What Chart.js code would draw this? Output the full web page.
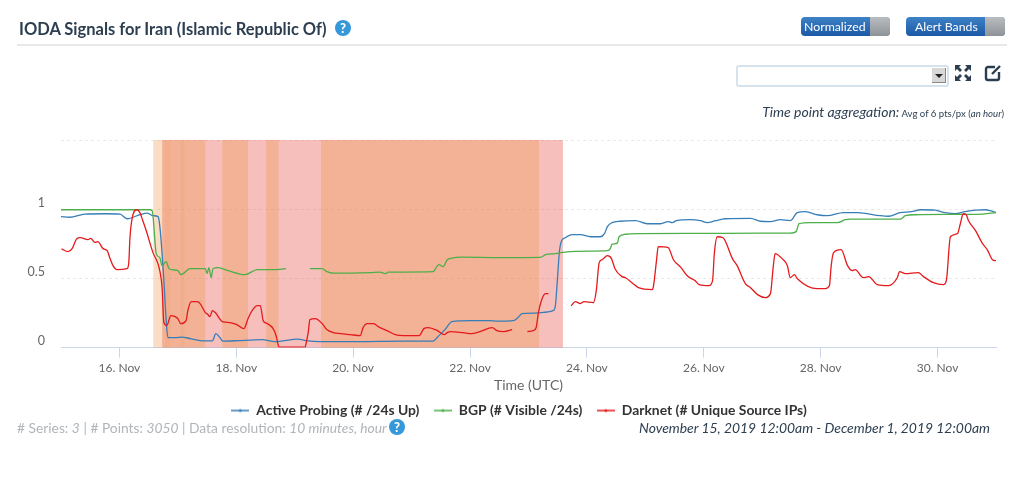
<!DOCTYPE html>
<html>
<head>
<meta charset="utf-8">
<title>IODA Signals for Iran</title>
<script src="https://cdn.jsdelivr.net/npm/chart.js@4"></script>
<style>
  html, body { margin: 0; padding: 0; background: #fff; }
  body { width: 1024px; height: 481px; position: relative; overflow: hidden; font-family: Lato, sans-serif; }
  #chart { position: absolute; left: 0; top: 0; }
  .abs { position: absolute; white-space: nowrap; }
  #title { left: 19px; top: 18px; font-size: 16.5px; line-height: 22px; font-weight: 700; color: #2c3e50; }
  #rule { left: 17px; top: 44px; width: 990px; height: 2px; background: #e8e8e8; }
  .help { width: 16px; height: 16px; border-radius: 50%; background: #3498db; color: #fff; font-size: 13px; line-height: 16px; font-weight: 900; text-align: center; }
  .toggle { top: 17px; height: 19px; border-radius: 4px; background: linear-gradient(#3d82c6, #1c58a6); color: #fff; font-size: 12.3px; line-height: 19px; overflow: hidden; }
  .toggle span { position: absolute; top: 0; padding-left: 3px; }
  .toggle i { position: absolute; right: 0; top: 0; width: 20px; height: 19px; background: linear-gradient(#b9bdc0, #8e9398); }
  #select { left: 736px; top: 65px; width: 209px; height: 18px; border: 2px solid #d6e2ec; border-radius: 3px; background: #fff; }
  #select b { position: absolute; right: 1px; top: 1px; width: 14px; height: 15px; background: #d8d8d8; border-right: 1px solid #888; border-bottom: 1px solid #888; box-sizing: border-box; }
  #select b::after { content: ""; position: absolute; left: 3px; top: 6px; border: 4px solid transparent; border-top: 4px solid #222; }
  #aggregation { right: 20px; top: 103px; color: #2c3e50; font-size: 9.6px; line-height: 18px; }
  #aggregation em.big { font-size: 14px; }
  #stats { left: 17px; top: 419px; color: #b0b5b9; font-size: 13.8px; line-height: 17px; }
  #range { left: 639px; top: 419px; color: #2c3e50; font-size: 13.9px; line-height: 17px; font-style: italic; }
</style>
</head>
<body>
<canvas id="chart" width="1024" height="481"></canvas>

<div class="abs" id="title">IODA Signals for Iran (Islamic Republic Of)</div>
<div class="abs help" style="left:335px;top:20px">?</div>
<div class="abs" id="rule"></div>

<div class="abs toggle" style="left:801px;width:89px"><span>Normalized</span><i></i></div>
<div class="abs toggle" style="left:906px;width:99px"><span style="padding-left:9px">Alert Bands</span><i></i></div>

<div class="abs" id="select"><b></b></div>
<svg class="abs" style="left:954px;top:64px" width="18" height="18" viewBox="0 0 18 18" fill="#2c3e50">
  <path d="M1 1h6L5 3l3 3-2 2-3-3-2 2zM17 1v6l-2-2-3 3-2-2 3-3-2-2zM1 17v-6l2 2 3-3 2 2-3 3 2 2zM17 17h-6l2-2-3-3 2-2 3 3 2-2z"/>
</svg>
<svg class="abs" style="left:984px;top:64px" width="18" height="18" viewBox="0 0 18 18" fill="none" stroke="#2c3e50" stroke-width="2.4">
  <path d="M11 3H4a2 2 0 0 0-2 2v9a2 2 0 0 0 2 2h9a2 2 0 0 0 2-2V8"/><path d="M8 10l8-8"/>
</svg>
<div class="abs" id="aggregation"><em class="big">Time point aggregation:</em> Avg of 6 pts/px (<em>an hour</em>)</div>

<div class="abs" id="stats"># Series: <em>3</em> | # Points: <em>3050</em> | Data resolution: <em>10 minutes, hour</em></div>
<div class="abs help" style="left:389px;top:419px">?</div>
<div class="abs" id="range">November 15, 2019 12:00am - December 1, 2019 12:00am</div>

<script>
// x values are days since Nov 15 00:00 UTC, y values are normalized
const xTickDays = [1, 3, 5, 7, 9, 11, 13, 15];
const xTickLabels = ['16. Nov', '18. Nov', '20. Nov', '22. Nov', '24. Nov', '26. Nov', '28. Nov', '30. Nov'];
const yTickValues = [0, 0.5, 1, 1.5];
const yTickLabels = ['0', '0.5', '1', ''];

const seriesNames = ['Active Probing (# /24s Up)', 'BGP (# Visible /24s)', 'Darknet (# Unique Source IPs)'];
const seriesColors = ['#377eb8', '#4daf4a', '#e41a1c'];

const probingDays = [0, .15, .41, .75, 1.01, 1.13, 1.35, 1.47, 1.58, 1.66, 1.69, 1.75, 1.80, 1.83, 1.95, 2.07, 2.21, 2.38, 2.59, 2.65, 2.72, 2.77, 3.06, 3.24, 3.44, 3.66, 4.06, 4.19, 4.43, 5.12, 5.80, 6.37, 6.45, 6.57, 6.69, 7.00, 7.34, 7.46, 7.74, 7.82, 7.89, 8.11, 8.20, 8.42, 8.46, 8.49, 8.53, 8.56, 8.63, 8.75, 8.89, 9.06, 9.23, 9.30, 9.35, 9.43, 9.57, 9.83, 10.03, 10.26, 10.39, 10.46, 10.53, 10.77, 10.94, 11.06, 11.20, 11.37, 11.80, 11.97, 12.14, 12.31, 12.48, 12.60, 12.74, 12.94, 13.11, 13.39, 13.63, 14.02, 14.16, 14.36, 14.55, 14.71, 14.96, 15.13, 15.30, 15.47, 15.65, 15.82, 15.90, 16];
const probingValues = [.946, .942, .964, .967, .964, .931, .960, .971, .953, .946, .881, .556, .195, .072, .072, .076, .065, .051, .048, .101, .072, .047, .051, .054, .058, .043, .061, .051, .043, .043, .047, .047, .079, .130, .188, .195, .195, .191, .195, .217, .245, .249, .253, .267, .303, .462, .700, .765, .794, .816, .816, .801, .801, .823, .874, .903, .913, .917, .895, .895, .910, .903, .917, .924, .917, .903, .917, .931, .934, .913, .910, .924, .917, .975, .982, .960, .953, .975, .975, .953, .949, .975, .982, .996, .993, .975, .967, .982, .993, .996, .989, .975];

const bgpDays = [0, 1.52, 1.56, 1.63, 1.69, 1.73, 1.80, 1.85, 2.00, 2.05, 2.21, 2.47, 2.50, 2.53, 2.57, 2.60, 2.69, 2.86, 3.15, 3.36, 3.63, 3.85, 4.05, 4.26, 4.47, 4.55, 4.66, 5.29, 5.46, 5.55, 5.60, 6.37, 6.42, 6.47, 6.54, 6.61, 6.69, 6.83, 7.52, 8.20, 8.29, 8.46, 8.63, 9.06, 9.35, 9.40, 9.43, 9.52, 9.55, 9.66, 9.91, 10.94, 11.97, 12.48, 12.58, 12.63, 12.82, 13.29, 13.42, 13.51, 14.36, 14.45, 14.62, 15.78, 16];
const bgpValues = [.996, .996, .989, .679, .650, .592, .621, .570, .556, .527, .570, .570, .534, .578, .505, .570, .578, .556, .527, .563, .563, .570, null, .570, .570, .549, .538, .542, .545, .534, .545, .549, .578, .599, .585, .635, .646, .653, .650, .652, .671, .679, .690, .697, .700, .715, .747, .755, .801, .819, .823, .825, .827, .827, .838, .895, .903, .903, .924, .928, .928, .953, .960, .965, .975];

const darknetDays = [.01, .12, .19, .27, .33, .46, .51, .58, .63, .72, .79, .84, .89, .96, 1.13, 1.16, 1.18, 1.22, 1.30, 1.35, 1.40, 1.47, 1.52, 1.58, 1.64, 1.69, 1.73, 1.76, 1.81, 1.88, 1.95, 2.00, 2.05, 2.14, 2.17, 2.23, 2.33, 2.38, 2.47, 2.50, 2.55, 2.59, 2.64, 2.76, 2.89, 3.01, 3.13, 3.20, 3.27, 3.36, 3.41, 3.46, 3.53, 3.63, 3.68, 3.72, 3.73, 4.18, 4.19, 4.23, 4.26, 4.35, 4.47, 4.55, 4.66, 4.78, 4.95, 5.12, 5.17, 5.24, 5.34, 5.46, 5.58, 5.72, 5.86, 6.13, 6.21, 6.28, 6.44, 6.56, 6.61, 6.66, 6.88, 7.02, 7.17, 7.38, 7.46, 7.58, 7.72, 7.85, 7.98, 8.08, 8.13, 8.17, 8.22, 8.29, 8.34, 8.5, 8.73, 8.80, 8.89, 8.95, 9.11, 9.16, 9.21, 9.26, 9.35, 9.42, 9.48, 9.60, 9.66, 9.79, 9.88, 10.12, 10.14, 10.19, 10.22, 10.39, 10.48, 10.61, 10.73, 10.85, 10.92, 11.09, 11.15, 11.18, 11.23, 11.33, 11.38, 11.49, 11.57, 11.71, 11.80, 11.92, 12.05, 12.14, 12.19, 12.22, 12.34, 12.43, 12.48, 12.55, 12.60, 12.94, 13.08, 13.15, 13.18, 13.22, 13.35, 13.46, 13.54, 13.59, 13.73, 13.82, 13.97, 14.16, 14.31, 14.35, 14.45, 14.67, 14.76, 14.93, 15.10, 15.15, 15.22, 15.34, 15.39, 15.44, 15.49, 15.53, 15.65, 15.77, 15.85, 15.94, 16];
const darknetValues = [.713, .693, .715, .787, .794, .780, .789, .760, .765, .715, .700, .643, .592, .563, .570, .614, .794, .939, .996, .975, .917, .830, .758, .679, .628, .556, .433, .181, .159, .231, .224, .209, .173, .195, .267, .332, .332, .318, .253, .245, .224, .267, .253, .188, .181, .166, .137, .209, .267, .303, .303, .195, .173, .137, .087, .014, .004, .004, .022, .108, .202, .209, .173, .130, .108, .101, .094, .087, .144, .173, .173, .144, .123, .094, .087, .087, .137, .144, .123, .094, .108, .116, .108, .101, .116, .144, .123, .116, .130, null, .116, .123, .144, .253, .339, .390, .390, null, .303, .332, .318, .332, .325, .412, .614, .635, .664, .643, .570, .513, .505, .462, .433, .419, .448, .628, .729, .722, .635, .578, .513, .484, .455, .448, .484, .679, .801, .794, .758, .643, .592, .462, .433, .383, .361, .390, .592, .679, .643, .592, .505, .527, .498, .426, .426, .448, .592, .686, .708, .592, .556, .563, .505, .513, .455, .448, .505, .549, .534, .542, .513, .469, .455, .484, .801, .823, .895, .967, .960, .917, .845, .751, .708, .635, .628];

// alert bands, [start day, end day]
const criticalBands = [[1.73, 8.59]];
const warningBands = [[1.58, 2.47], [2.76, 3.20], [3.51, 3.72], [4.45, 8.18]];
const warningOverlaps = [[1.78, 1.87], [2.05, 2.11]];

function points(days, values) {
  return days.map((d, i) => ({ x: d, y: values[i] }));
}

// line with a small dot, same as the highcharts legend symbol
function legendMarker(color) {
  const c = document.createElement('canvas');
  c.width = 18;
  c.height = 6;
  const g = c.getContext('2d');
  g.fillStyle = color;
  g.fillRect(0, 2.25, 18, 1.5);
  g.beginPath();
  g.arc(9, 3, 1.5, 0, Math.PI * 2);
  g.fill();
  return c;
}

function makeDataset(i, days, values) {
  return {
    label: seriesNames[i],
    data: points(days, values),
    borderColor: seriesColors[i],
    backgroundColor: seriesColors[i],
    borderWidth: 1.3,
    pointRadius: 0,
    pointStyle: legendMarker(seriesColors[i]),
    cubicInterpolationMode: 'monotone',
    spanGaps: false,
    order: 3 - i
  };
}

const alertBandsPlugin = {
  id: 'alertBands',
  // legend has to sit 14px right of the plot centre
  afterLayout(chart) {
    chart.legend.left += 14;
    chart.legend.right += 14;
  },
  beforeDatasetsDraw(chart) {
    const { ctx, chartArea, scales } = chart;
    const paint = (bands, color) => {
      ctx.fillStyle = color;
      bands.forEach(([from, to]) => {
        const x0 = scales.x.getPixelForValue(from);
        const x1 = scales.x.getPixelForValue(to);
        ctx.fillRect(x0, chartArea.top, x1 - x0, chartArea.bottom - chartArea.top);
      });
    };
    paint(criticalBands, 'rgba(230,60,50,0.33)');
    paint(warningBands, 'rgba(235,150,70,0.32)');
    paint(warningOverlaps, 'rgba(235,150,70,0.14)');
  }
};

new Chart(document.getElementById('chart'), {
  type: 'line',
  data: {
    datasets: [
      makeDataset(0, probingDays, probingValues),
      makeDataset(1, bgpDays, bgpValues),
      makeDataset(2, darknetDays, darknetValues)
    ]
  },
  plugins: [alertBandsPlugin],
  options: {
    responsive: false,
    animation: false,
    devicePixelRatio: 1,
    layout: { padding: { left: 14, right: 28, top: 140, bottom: 53.5 } },
    plugins: {
      tooltip: { enabled: false },
      legend: {
        position: 'bottom',
        labels: {
          usePointStyle: true,
          pointStyleWidth: 18,
          padding: 14.5,
          color: '#333',
          font: { family: 'Lato', size: 13.9, weight: 'bold' },
          sort: (a, b) => a.datasetIndex - b.datasetIndex
        }
      }
    },
    scales: {
      x: {
        type: 'linear',
        min: 0,
        max: 16,
        afterFit: (s) => { s.height = 41.5; },
        afterBuildTicks: (s) => { s.ticks = xTickDays.map((v) => ({ value: v })); },
        grid: { drawOnChartArea: false, color: '#ccd6eb', tickLength: 10 },
        border: { color: '#ccd6eb' },
        ticks: {
          autoSkip: false,
          maxRotation: 0,
          padding: 3,
          color: '#666',
          font: { family: 'Lato', size: 12 },
          callback: (v, i) => xTickLabels[i]
        },
        title: {
          display: true,
          text: 'Time (UTC)',
          color: '#666',
          font: { family: 'Lato', size: 14 },
          padding: { top: 3, bottom: -4.5 }
        }
      },
      y: {
        min: 0,
        max: 1.5,
        afterFit: (s) => { s.width = 47; },
        afterBuildTicks: (s) => { s.ticks = yTickValues.map((v) => ({ value: v })); },
        grid: { color: '#e9e9e9', drawTicks: false },
        border: { display: false, dash: [3, 3] },
        ticks: {
          padding: 16,
          labelOffset: -6.5,
          color: '#666',
          font: { family: 'Lato', size: 12.5 },
          callback: (v, i) => yTickLabels[i]
        }
      }
    }
  }
});
</script>
</body>
</html>
